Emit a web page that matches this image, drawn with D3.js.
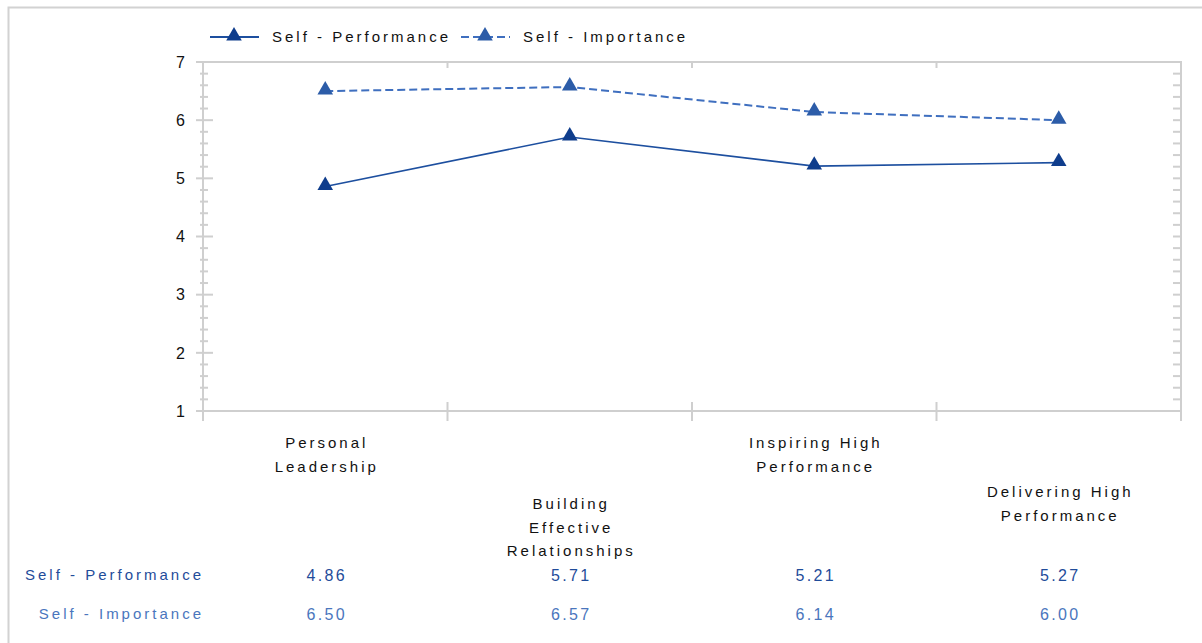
<!DOCTYPE html>
<html>
<head>
<meta charset="utf-8">
<script src="https://cdn.jsdelivr.net/npm/d3@7"></script>
<style>
  html, body { margin: 0; padding: 0; background: #fff; }
  svg { display: block; }
  text { font-family: "Liberation Sans", Arial, sans-serif; }
</style>
</head>
<body>
<svg id="chart" width="1202" height="643"></svg>
<script>
// Competency scores
const categories = [
  ["Personal", "Leadership"],
  ["Building", "Effective", "Relationships"],
  ["Inspiring High", "Performance"],
  ["Delivering High", "Performance"]
];
const seriesNames = ["Self - Performance", "Self - Importance"];
const selfPerformance = [4.86, 5.71, 5.21, 5.27];
const selfImportance = [6.50, 6.57, 6.14, 6.00];
const yTicks = [1, 2, 3, 4, 5, 6, 7];

const svg = d3.select("#chart");
const W = 1202, H = 643;
const plot = { left: 203, right: 1181, top: 62, bottom: 411 };

const axisGray = "#cfcfcf";
const perfColor = "#1d4f9f";
const perfMarker = "#0f3d8c";
const impColor = "#3f6fbf";
const impMarker = "#2c5ca8";
const LS = 3.0;   // letter spacing used for labels

// Outer frame
svg.append("path")
  .attr("d", `M8.5,${H} L8.5,7.5 L${W},7.5`)
  .attr("fill", "none").attr("stroke", "#d2d2d2").attr("stroke-width", 2);

const x = d3.scaleBand()
  .domain(d3.range(categories.length))
  .range([plot.left, plot.right])
  .padding(0);
const y = d3.scaleLinear().domain([1, 7]).range([plot.bottom, plot.top]);
const cx = i => x(i) + x.bandwidth() / 2;

// Plot frame
const g = svg.append("g");
g.append("rect")
  .attr("x", plot.left).attr("y", plot.top)
  .attr("width", plot.right - plot.left).attr("height", plot.bottom - plot.top)
  .attr("fill", "none").attr("stroke", axisGray).attr("stroke-width", 2);

// Left axis with minor ticks every 0.2
const minor = d3.range(1, 7.0001, 0.2).map(v => +v.toFixed(1)).filter(v => !yTicks.includes(v));
g.selectAll(".minorL").data(minor).join("line")
  .attr("x1", plot.left - 3).attr("x2", plot.left + 5)
  .attr("y1", d => y(d)).attr("y2", d => y(d))
  .attr("stroke", axisGray).attr("stroke-width", 2);
g.selectAll(".majorL").data(yTicks).join("line")
  .attr("x1", plot.left - 7).attr("x2", plot.left + 10)
  .attr("y1", d => y(d)).attr("y2", d => y(d))
  .attr("stroke", axisGray).attr("stroke-width", 2);
g.append("line")
  .attr("x1", plot.left).attr("x2", plot.left)
  .attr("y1", plot.top).attr("y2", plot.bottom + 10)
  .attr("stroke", axisGray).attr("stroke-width", 2);

// Right axis ticks (inward)
g.selectAll(".minorR").data(minor.concat(yTicks.slice(1, -1))).join("line")
  .attr("x1", plot.right - 8).attr("x2", plot.right)
  .attr("y1", d => y(d)).attr("y2", d => y(d))
  .attr("stroke", axisGray).attr("stroke-width", 2);
g.append("line")
  .attr("x1", plot.right).attr("x2", plot.right)
  .attr("y1", plot.top).attr("y2", plot.bottom + 10)
  .attr("stroke", axisGray).attr("stroke-width", 2);

// Category boundary ticks (bottom crossing, top inward)
const bounds = d3.range(1, categories.length).map(i => x(i));
g.selectAll(".tickB").data(bounds).join("line")
  .attr("x1", d => d).attr("x2", d => d)
  .attr("y1", plot.bottom - 9).attr("y2", plot.bottom + 10)
  .attr("stroke", axisGray).attr("stroke-width", 2);
g.selectAll(".tickT").data(bounds).join("line")
  .attr("x1", d => d).attr("x2", d => d)
  .attr("y1", plot.top).attr("y2", plot.top + 6)
  .attr("stroke", axisGray).attr("stroke-width", 2);

// Y tick labels
g.selectAll(".ylab").data(yTicks).join("text")
  .attr("x", plot.left - 18).attr("y", d => y(d))
  .attr("dy", "0.36em").attr("text-anchor", "end")
  .attr("font-size", 16).attr("fill", "#111")
  .text(d => d);

// Category labels, staggered into two rows
const rowTop = [443, 504, 443, 492];
categories.forEach((lines, i) => {
  const t = g.append("text")
    .attr("text-anchor", "middle").attr("font-size", 15)
    .attr("fill", "#111").attr("letter-spacing", LS);
  lines.forEach((ln, k) => {
    t.append("tspan").attr("x", cx(i) + LS / 2).attr("y", rowTop[i] + k * 23.5)
      .attr("dy", "0.35em").text(ln);
  });
});

// Lines and markers
const tri = d3.symbol().type(d3.symbolTriangle).size(105);
const line = d3.line().x((d, i) => cx(i)).y(d => y(d));

svg.append("path").datum(selfImportance)
  .attr("d", line).attr("fill", "none")
  .attr("stroke", impColor).attr("stroke-width", 2)
  .attr("stroke-dasharray", "8,4");
svg.append("path").datum(selfPerformance)
  .attr("d", line).attr("fill", "none")
  .attr("stroke", perfColor).attr("stroke-width", 1.6);

svg.selectAll(".mImp").data(selfImportance).join("path")
  .attr("d", tri).attr("fill", impMarker)
  .attr("transform", (d, i) => `translate(${cx(i)},${y(d) - 1})`);
svg.selectAll(".mPerf").data(selfPerformance).join("path")
  .attr("d", tri).attr("fill", perfMarker)
  .attr("transform", (d, i) => `translate(${cx(i)},${y(d) - 1})`);

// Legend
const legend = svg.append("g");
const legItems = [
  { name: seriesNames[0], x: 210, color: perfColor, marker: perfMarker, dash: null },
  { name: seriesNames[1], x: 461, color: impColor, marker: impMarker, dash: "8,4" }
];
legItems.forEach(it => {
  legend.append("line")
    .attr("x1", it.x).attr("x2", it.x + 49).attr("y1", 37).attr("y2", 37)
    .attr("stroke", it.color).attr("stroke-width", 2)
    .attr("stroke-dasharray", it.dash);
  legend.append("path").attr("d", tri).attr("fill", it.marker)
    .attr("transform", `translate(${it.x + 24},36)`);
  legend.append("text")
    .attr("x", it.x + 62).attr("y", 37).attr("dy", "0.35em")
    .attr("font-size", 15).attr("fill", "#111")
    .attr("letter-spacing", LS)
    .text(it.name);
});

// Data table below the chart
const rows = [
  { name: seriesNames[0], values: selfPerformance, y: 575, color: "#1f4c9a" },
  { name: seriesNames[1], values: selfImportance, y: 614, color: "#4a76bd" }
];
rows.forEach(r => {
  svg.append("text")
    .attr("x", 204).attr("y", r.y).attr("dy", "0.35em")
    .attr("text-anchor", "end").attr("font-size", 15)
    .attr("fill", r.color).attr("letter-spacing", LS)
    .text(r.name);
  svg.selectAll(null).data(r.values).join("text")
    .attr("x", (d, i) => cx(i) + 1.5).attr("y", r.y).attr("dy", "0.35em")
    .attr("text-anchor", "middle").attr("font-size", 16)
    .attr("fill", r.color).attr("letter-spacing", 2.4)
    .text(d => d.toFixed(2));
});
</script>
</body>
</html>
